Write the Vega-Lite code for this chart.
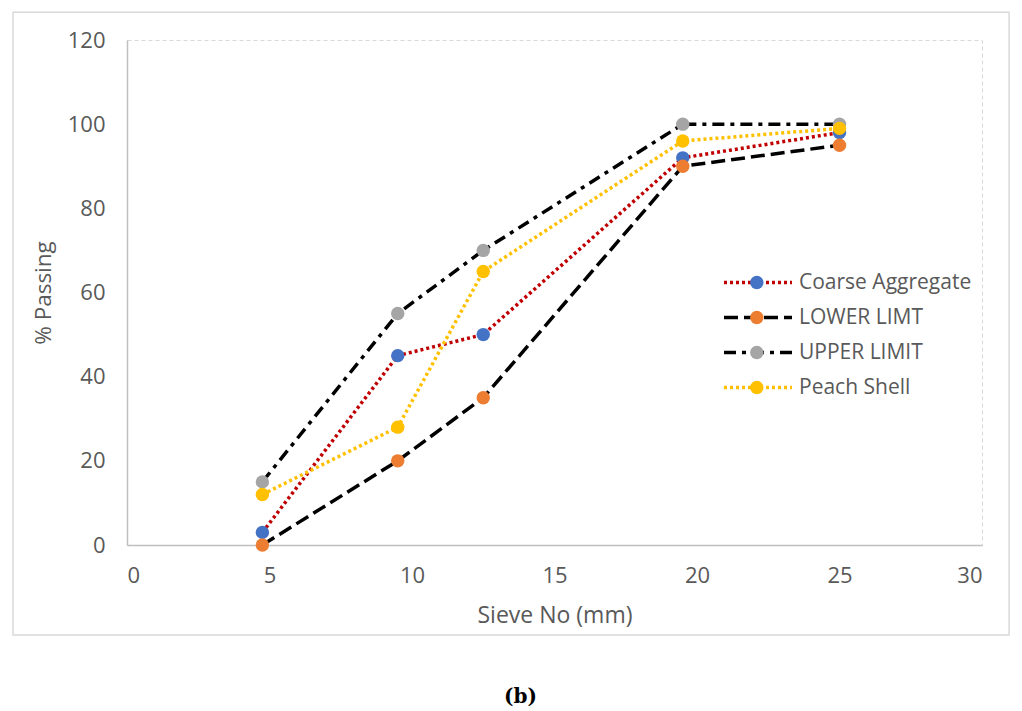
{
  "$schema": "https://vega.github.io/schema/vega-lite/v6.json",
  "width": 855,
  "height": 505,
  "autosize": {"type": "none"},
  "padding": {"left": 127, "top": 40, "right": 40, "bottom": 166},
  "background": "white",
  "config": {
    "view": {"stroke": "#d9d9d9", "strokeDash": [4, 3], "strokeWidth": 1},
    "font": "Open Sans"
  },
  "title": {
    "text": "(b)",
    "orient": "bottom",
    "font": "DejaVu Serif",
    "fontSize": 20,
    "fontWeight": "bold",
    "color": "#000000",
    "anchor": "middle",
    "offset": 51,
    "dx": -34
  },
  "data": {
    "values": [
      {"series": "Coarse Aggregate", "sieve": 4.75, "passing": 3},
      {"series": "Coarse Aggregate", "sieve": 9.5, "passing": 45},
      {"series": "Coarse Aggregate", "sieve": 12.5, "passing": 50},
      {"series": "Coarse Aggregate", "sieve": 19.5, "passing": 92},
      {"series": "Coarse Aggregate", "sieve": 25, "passing": 98},
      {"series": "LOWER LIMT", "sieve": 4.75, "passing": 0},
      {"series": "LOWER LIMT", "sieve": 9.5, "passing": 20},
      {"series": "LOWER LIMT", "sieve": 12.5, "passing": 35},
      {"series": "LOWER LIMT", "sieve": 19.5, "passing": 90},
      {"series": "LOWER LIMT", "sieve": 25, "passing": 95},
      {"series": "UPPER LIMIT", "sieve": 4.75, "passing": 15},
      {"series": "UPPER LIMIT", "sieve": 9.5, "passing": 55},
      {"series": "UPPER LIMIT", "sieve": 12.5, "passing": 70},
      {"series": "UPPER LIMIT", "sieve": 19.5, "passing": 100},
      {"series": "UPPER LIMIT", "sieve": 25, "passing": 100},
      {"series": "Peach Shell", "sieve": 4.75, "passing": 12},
      {"series": "Peach Shell", "sieve": 9.5, "passing": 28},
      {"series": "Peach Shell", "sieve": 12.5, "passing": 65},
      {"series": "Peach Shell", "sieve": 19.5, "passing": 96},
      {"series": "Peach Shell", "sieve": 25, "passing": 99}
    ]
  },
  "layer": [
    {
      "data": {"values": [{}]},
      "mark": {"type": "rect", "fill": "transparent", "stroke": "#d9d9d9", "strokeWidth": 1.5},
      "encoding": {
        "x": {"datum": -4},
        "x2": {"datum": 30.95},
        "y": {"datum": 126.6},
        "y2": {"datum": -21.4}
      }
    },
    {
      "mark": {"type": "line", "strokeWidth": 3.5},
      "encoding": {
        "x": {
          "field": "sieve",
          "type": "quantitative",
          "scale": {"domain": [0, 30], "nice": false, "zero": false},
          "axis": {
            "values": [0, 5, 10, 15, 20, 25, 30],
            "grid": false,
            "ticks": false,
            "domainColor": "#bfbfbf",
            "domainWidth": 1.5,
            "labelColor": "#595959",
            "labelFontSize": 22,
            "labelPadding": 20,
            "title": "Sieve No (mm)",
            "titleColor": "#595959",
            "titleFontSize": 23,
            "titleFontWeight": "normal",
            "titlePadding": 18
          }
        },
        "y": {
          "field": "passing",
          "type": "quantitative",
          "scale": {"domain": [0, 120], "nice": false},
          "axis": {
            "values": [0, 20, 40, 60, 80, 100, 120],
            "grid": false,
            "ticks": false,
            "domainColor": "#bfbfbf",
            "domainWidth": 1.5,
            "labelColor": "#595959",
            "labelFontSize": 22,
            "labelPadding": 22,
            "title": "% Passing",
            "titleColor": "#595959",
            "titleFontSize": 22.5,
            "titleFontWeight": "normal",
            "titlePadding": 12
          }
        },
        "stroke": {
          "field": "series",
          "type": "nominal",
          "scale": {
            "domain": ["Coarse Aggregate", "LOWER LIMT", "UPPER LIMIT", "Peach Shell"],
            "range": ["#c00000", "#000000", "#000000", "#ffc000"]
          },
          "legend": {
            "orient": "none",
            "legendX": 620.5,
            "legendY": 232,
            "title": null,
            "symbolType": "M-4,0H4",
            "symbolSize": 289,
            "symbolStrokeWidth": 3.5,
            "labelFontSize": 21,
            "labelColor": "#595959",
            "labelOffset": 30.5,
            "labelLimit": 400,
            "rowPadding": 13,
            "padding": 0
          }
        },
        "strokeDash": {
          "field": "series",
          "type": "nominal",
          "scale": {
            "domain": ["Coarse Aggregate", "LOWER LIMT", "UPPER LIMIT", "Peach Shell"],
            "range": [[3, 3], [14, 6], [12, 6, 4, 6], [3, 3]]
          },
          "legend": {
            "orient": "none",
            "legendX": 620.5,
            "legendY": 232,
            "title": null,
            "symbolType": "M-4,0H4",
            "symbolSize": 289,
            "symbolStrokeWidth": 3.5,
            "labelFontSize": 21,
            "labelColor": "#595959",
            "labelOffset": 30.5,
            "labelLimit": 400,
            "rowPadding": 13,
            "padding": 0
          }
        }
      }
    },
    {
      "mark": {"type": "point", "filled": true, "size": 180, "opacity": 1, "strokeWidth": 0},
      "encoding": {
        "x": {"field": "sieve", "type": "quantitative"},
        "y": {"field": "passing", "type": "quantitative"},
        "fill": {
          "field": "series",
          "type": "nominal",
          "sort": null,
          "scale": {"range": ["#4472c4", "#ed7d31", "#a5a5a5", "#ffc000"]},
          "legend": {
            "orient": "none",
            "legendX": 619.3,
            "legendY": 232,
            "title": null,
            "symbolType": "circle",
            "symbolSize": 180,
            "symbolStrokeWidth": 0,
            "symbolOpacity": 1,
            "labelFontSize": 21,
            "labelExpr": "''",
            "rowPadding": 13,
            "padding": 0
          }
        }
      }
    }
  ]
}
